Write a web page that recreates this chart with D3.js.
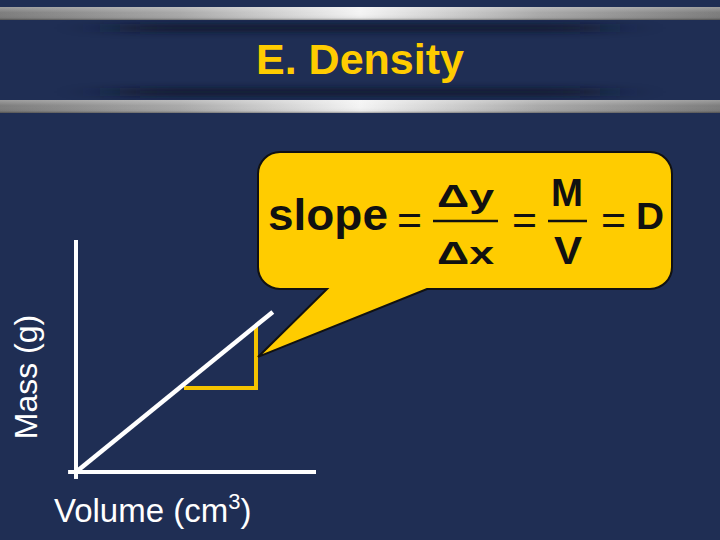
<!DOCTYPE html>
<html lang="en">
<meta charset="UTF-8">
<title>E. Density</title>
<style>
html, body { margin: 0; padding: 0; background: #1f2e54; }
svg { display: block; font-family: "Liberation Sans", Arial, sans-serif; }
</style>
<body>
<script src="https://cdn.jsdelivr.net/npm/d3@7"></script>
<script>
// the mass / volume line and its rise-over-run triangle (arbitrary units)
var lineVolume = [0, 8.2];
var lineMass = [0, 6.9];
var triVolume = [4.5, 7.5, 7.5];
var triMass = [3.62, 3.62, 6.3];
var axisVolume = [-0.33, 10];
var axisMass = [-0.3, 10];

var titleText = "E. Density";
var xLabel = "Volume (cm";
var xLabelSup = "3";
var yLabel = "Mass (g)";

var width = 720, height = 540;

var svg = d3.select("body").append("svg")
  .attr("width", width)
  .attr("height", height);

var defs = svg.append("defs");

var band = defs.append("linearGradient").attr("id", "band");
band.selectAll("stop")
  .data([[0, "#7d7d7d"], [0.25, "#a9a9a9"], [0.5, "#f4f4f4"], [0.75, "#a9a9a9"], [1, "#7d7d7d"]])
  .enter().append("stop")
  .attr("offset", function(d) { return d[0]; })
  .attr("stop-color", function(d) { return d[1]; });

var bandV = defs.append("linearGradient").attr("id", "bandV")
  .attr("x1", 0).attr("x2", 0).attr("y1", 0).attr("y2", 1);
bandV.selectAll("stop")
  .data([[0, "#ffffff", 0.25], [0.45, "#ffffff", 0.0], [0.85, "#000000", 0.05], [1, "#000000", 0.35]])
  .enter().append("stop")
  .attr("offset", function(d) { return d[0]; })
  .attr("stop-color", function(d) { return d[1]; })
  .attr("stop-opacity", function(d) { return d[2]; });

defs.append("filter").attr("id", "soft")
  .attr("x", "-20%").attr("y", "-200%").attr("width", "140%").attr("height", "500%")
  .append("feGaussianBlur").attr("stdDeviation", "30 3");

svg.append("rect")
  .attr("width", width).attr("height", height)
  .attr("fill", "#1f2e54");

// header bands with soft shadows
[[24, 8], [88, 8]].forEach(function(s) {
  svg.append("rect")
    .attr("x", 120).attr("y", s[0]).attr("width", 480).attr("height", s[1])
    .attr("fill", "#0b1228").attr("opacity", 0.75)
    .attr("filter", "url(#soft)");
});
[7, 100].forEach(function(y0) {
  svg.append("rect").attr("x", 0).attr("y", y0).attr("width", width).attr("height", 13)
    .attr("fill", "url(#band)");
  svg.append("rect").attr("x", 0).attr("y", y0).attr("width", width).attr("height", 13)
    .attr("fill", "url(#bandV)");
});

svg.append("text")
  .attr("x", 360).attr("y", 74)
  .attr("text-anchor", "middle")
  .attr("font-size", 43).attr("font-weight", "bold")
  .attr("fill", "#ffcc00")
  .text(titleText);

// graph
var x = d3.scaleLinear().domain([0, 10]).range([76, 316]);
var y = d3.scaleLinear().domain([0, 10]).range([472, 240]);

var g = svg.append("g");

g.append("line")
  .attr("x1", x(0)).attr("x2", x(0))
  .attr("y1", y(axisMass[0])).attr("y2", y(axisMass[1]))
  .attr("stroke", "#fff").attr("stroke-width", 4);

g.append("line")
  .attr("x1", x(axisVolume[0])).attr("x2", x(axisVolume[1]))
  .attr("y1", y(0)).attr("y2", y(0))
  .attr("stroke", "#fff").attr("stroke-width", 4);

var tri = d3.line()
  .x(function(d) { return x(d[0]); })
  .y(function(d) { return y(d[1]); });

g.append("path")
  .attr("d", tri(d3.zip(triVolume, triMass)))
  .attr("fill", "none")
  .attr("stroke", "#f5c300").attr("stroke-width", 4);

g.append("path")
  .attr("d", tri(d3.zip(lineVolume, lineMass)))
  .attr("fill", "none")
  .attr("stroke", "#fff").attr("stroke-width", 4.5);

var xl = g.append("text")
  .attr("x", 54).attr("y", 522)
  .attr("font-size", 33)
  .attr("fill", "#fff")
  .text(xLabel);
xl.append("tspan")
  .attr("font-size", 22).attr("dy", -13)
  .text(xLabelSup);
xl.append("tspan")
  .attr("font-size", 33).attr("dy", 13)
  .text(")");

g.append("text")
  .attr("transform", "translate(37,377) rotate(-90)")
  .attr("text-anchor", "middle")
  .attr("font-size", 32)
  .attr("fill", "#fff")
  .text(yLabel);

// speech bubble pointing at the triangle
var L = 258, R = 672, T = 152, B = 289, r = 22;
var tipX = x(triVolume[1]) + 2,
  tipY = y((triMass[1] + triMass[2]) / 2);

var bubble = d3.path();
bubble.moveTo(L + r, T);
bubble.lineTo(R - r, T);
bubble.arcTo(R, T, R, T + r, r);
bubble.lineTo(R, B - r);
bubble.arcTo(R, B, R - r, B, r);
bubble.lineTo(427, B);
bubble.lineTo(tipX, tipY);
bubble.lineTo(327, B);
bubble.lineTo(L + r, B);
bubble.arcTo(L, B, L, B - r, r);
bubble.lineTo(L, T + r);
bubble.arcTo(L, T, L + r, T, r);
bubble.closePath();

svg.append("path")
  .attr("d", bubble.toString())
  .attr("fill", "#ffcc00")
  .attr("stroke", "#111").attr("stroke-width", 2);

var eq = svg.append("g").attr("fill", "#111");

function tok(txt, x0, base, size, len, bold) {
  eq.append("text")
    .attr("x", x0).attr("y", base)
    .attr("font-size", size)
    .attr("font-weight", bold ? "bold" : "normal")
    .attr("textLength", len)
    .attr("lengthAdjust", "spacingAndGlyphs")
    .text(txt);
}

tok("slope", 268, 230, 45, 120, true);
tok("=", 397, 234, 40, 25, false);
tok("\u0394y", 437, 207, 32, 57, true);
tok("\u0394x", 437, 264, 32, 57, true);
tok("=", 512, 234, 40, 25, false);
tok("M", 551, 206, 38, 32, true);
tok("V", 554, 264, 38, 28, true);
tok("=", 601, 234, 40, 25, false);
tok("D", 636, 229, 36, 28, true);

eq.append("line")
  .attr("x1", 433).attr("x2", 498).attr("y1", 221).attr("y2", 221)
  .attr("stroke", "#111").attr("stroke-width", 2.5);
eq.append("line")
  .attr("x1", 548).attr("x2", 587).attr("y1", 221).attr("y2", 221)
  .attr("stroke", "#111").attr("stroke-width", 2.5);
</script>
</body>
</html>
